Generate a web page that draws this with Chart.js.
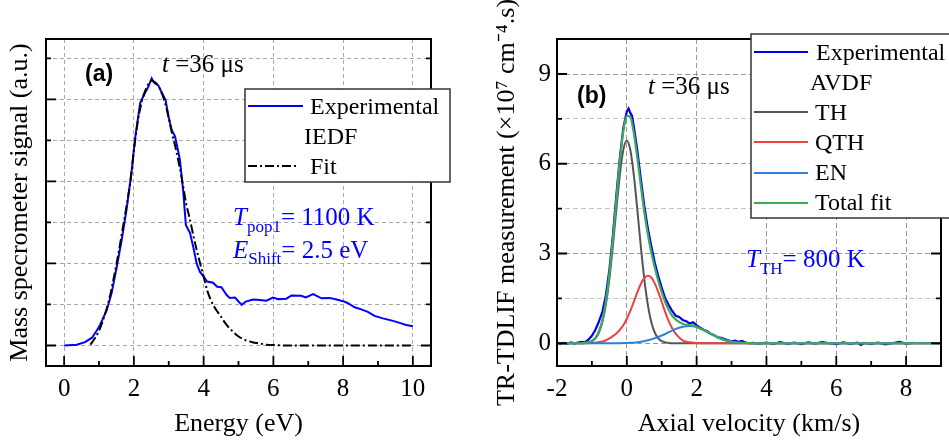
<!DOCTYPE html>
<html>
<head>
<meta charset="utf-8">
<script src="https://cdn.jsdelivr.net/npm/chart.js@4.4.1/dist/chart.umd.min.js"></script>
<style>
  html, body { margin: 0; padding: 0; background: #fff; }
  #wrap { position: relative; width: 949px; height: 443px; overflow: hidden; }
  canvas { position: absolute; top: 0; }
  #chartA { left: 0; }
  #chartB { left: 475px; }
</style>
</head>
<body>
<div id="wrap">
  <canvas id="chartA" width="475" height="443"></canvas>
  <canvas id="chartB" width="474" height="443"></canvas>
</div>
<script>
const SERIF = '"Liberation Serif", "Times New Roman", serif';
const SANS = '"Liberation Sans", Arial, sans-serif';

// panel (a) - ion energy distribution
const energyExp = [0, 0.36, 0.6, 0.8, 0.94, 1.03, 1.22, 1.36, 1.51, 1.65, 1.79, 1.94, 2.03, 2.18, 2.32, 2.41, 2.51, 2.58, 2.7, 2.8,
  2.91, 2.99, 3.08, 3.18, 3.32, 3.42, 3.49, 3.61, 3.7, 3.8, 3.89, 3.99, 4.1, 4.27, 4.39, 4.51, 4.66, 4.75, 4.9, 5.09,
  5.21, 5.42, 5.61, 5.8, 5.99, 6.14, 6.37, 6.52, 6.8, 6.93, 7.14, 7.38, 7.61, 7.81, 8.0, 8.14, 8.33, 8.52, 8.71, 8.9,
  9.14, 9.43, 9.62, 9.81, 10.0];
const iedfExp = [0, 0.02, 0.08, 0.19, 0.37, 0.5, 0.86, 1.27, 1.92, 2.57, 3.31, 4.28, 5.02, 5.91, 6.16, 6.3, 6.51, 6.4, 6.34, 6.16,
  5.98, 5.59, 5.26, 5.1, 4.53, 3.71, 2.94, 2.74, 2.41, 2.0, 1.8, 1.69, 1.56, 1.53, 1.43, 1.42, 1.23, 1.16, 1.17, 0.99,
  1.07, 1.12, 1.11, 1.09, 1.17, 1.13, 1.14, 1.22, 1.21, 1.17, 1.25, 1.15, 1.16, 1.12, 1.08, 1.03, 0.93, 0.88, 0.82, 0.72,
  0.66, 0.6, 0.55, 0.5, 0.47];
const energyFit = [0.75, 0.9, 1.0, 1.1, 1.2, 1.3, 1.4, 1.5, 1.6, 1.7, 1.8, 1.9, 2.0, 2.1, 2.2, 2.3, 2.4, 2.5, 2.6, 2.7,
  2.8, 2.9, 3.0, 3.1, 3.2, 3.3, 3.4, 3.5, 3.6, 3.7, 3.8, 3.9, 4.0, 4.1, 4.2, 4.3, 4.4, 4.5, 4.6, 4.7,
  4.8, 4.9, 5.0, 5.2, 5.4, 5.6, 5.8, 6.0, 6.5, 8.0, 10.0];
const iedfFit = [0.02, 0.2, 0.36, 0.58, 0.84, 1.15, 1.55, 1.98, 2.45, 2.95, 3.45, 4.0, 4.75, 5.4, 5.85, 6.15, 6.35, 6.45, 6.42, 6.33,
  6.15, 5.9, 5.55, 5.15, 4.8, 4.4, 3.95, 3.45, 3.1, 2.7, 2.33, 2.0, 1.68, 1.35, 1.12, 0.95, 0.82, 0.7, 0.57, 0.46,
  0.37, 0.29, 0.22, 0.13, 0.08, 0.05, 0.02, 0.01, 0, 0, 0];
const energyTicks = [0, 1, 2, 3, 4, 5, 6, 7, 8, 9, 10];
const signalTicks = [0, 1, 2, 3, 4, 5, 6, 7];

// panel (b) - axial velocity distribution
const avdfVel = [-2.0, -1.9, -1.8, -1.7, -1.6, -1.5, -1.4, -1.3, -1.2, -1.1, -1.0, -0.9, -0.8, -0.7, -0.6, -0.5, -0.4, -0.3, -0.2, -0.1,
  0.0, 0.05, 0.1, 0.15, 0.2, 0.3, 0.4, 0.5, 0.6, 0.7, 0.8, 0.9, 1.0, 1.1, 1.2, 1.3, 1.4, 1.5, 1.6, 1.7,
  1.8, 1.9, 2.0, 2.1, 2.2, 2.3, 2.4, 2.5, 2.6, 2.7, 2.8, 2.9, 3.0, 3.1, 3.2, 3.3, 3.4, 3.5, 3.6, 3.8,
  4.0, 4.2, 4.4, 4.6, 4.8, 5.0, 5.2, 5.4, 5.6, 5.8, 6.0, 6.2, 6.4, 6.6, 6.7, 6.8, 7.0, 7.2, 7.4, 7.6,
  7.8, 8.0, 8.2];
const avdfExp = [0.02, -0.03, 0.01, -0.02, 0.03, -0.01, 0.02, 0.05, 0.03, 0.12, 0.25, 0.45, 0.72, 1.05, 1.6, 2.45, 3.6, 4.95, 6.2, 7.2,
  7.75, 7.85, 7.7, 7.6, 7.25, 6.45, 5.5, 4.6, 3.85, 3.25, 2.7, 2.25, 1.85, 1.5, 1.28, 1.08, 0.92, 0.88, 0.78, 0.74,
  0.66, 0.7, 0.6, 0.52, 0.45, 0.4, 0.32, 0.27, 0.2, 0.18, 0.14, 0.1, 0.06, 0.09, 0.05, 0.08, 0.02, 0.0, 0.01, -0.01,
  0.02, -0.02, 0.04, -0.02, 0.02, -0.03, 0.03, -0.01, 0.04, 0.0, -0.03, 0.03, -0.02, 0.02, -0.06, 0.01, -0.02, 0.02, -0.04, 0.0,
  0.05, -0.01, 0.01];
const fitVel = [-2, -1.6, -1.3, -1.2, -1.1, -1.0, -0.9, -0.8, -0.7, -0.6, -0.5, -0.4, -0.3, -0.2, -0.1, 0, 0.1, 0.2, 0.3, 0.4,
  0.5, 0.6, 0.7, 0.8, 0.9, 1.0, 1.1, 1.2, 1.3, 1.4, 1.5, 1.6, 1.7, 1.8, 1.9, 2.0, 2.1, 2.2, 2.3, 2.4,
  2.5, 2.6, 2.7, 2.8, 2.9, 3.0, 3.1, 3.2, 3.3, 3.4, 3.5, 3.6, 3.8, 4.0, 5, 7, 9];
const thFit = [0, 0, 0, 0.01, 0.03, 0.07, 0.16, 0.36, 0.71, 1.30, 2.15, 3.25, 4.48, 5.63, 6.47, 6.77, 6.47, 5.63, 4.48, 3.25,
  2.15, 1.30, 0.71, 0.36, 0.16, 0.07, 0.03, 0.01, 0, 0, 0, 0, 0, 0, 0, 0, 0, 0, 0, 0,
  0, 0, 0, 0, 0, 0, 0, 0, 0, 0, 0, 0, 0, 0, 0, 0, 0];
const qthFit = [0, 0, 0, 0, 0, 0.01, 0.02, 0.04, 0.06, 0.10, 0.16, 0.24, 0.33, 0.45, 0.60, 0.82, 1.08, 1.38, 1.70, 1.98,
  2.18, 2.26, 2.20, 2.00, 1.72, 1.38, 1.04, 0.74, 0.50, 0.32, 0.19, 0.10, 0.05, 0.03, 0.02, 0.01, 0, 0, 0, 0,
  0, 0, 0, 0, 0, 0, 0, 0, 0, 0, 0, 0, 0, 0, 0, 0, 0];
const enFit = [0, 0, 0, 0, 0, 0, 0, 0, 0, 0, 0, 0, 0, 0.004, 0.007, 0.01, 0.015, 0.02, 0.03, 0.05,
  0.07, 0.10, 0.13, 0.17, 0.21, 0.26, 0.31, 0.37, 0.42, 0.48, 0.52, 0.55, 0.57, 0.58, 0.57, 0.54, 0.49, 0.44, 0.38, 0.32,
  0.26, 0.20, 0.15, 0.11, 0.08, 0.05, 0.035, 0.02, 0.014, 0.008, 0.005, 0.003, 0.001, 0, 0, 0, 0];
const totalFit = [0, 0, 0, 0.01, 0.03, 0.08, 0.18, 0.40, 0.77, 1.40, 2.31, 3.49, 4.81, 6.08, 7.08, 7.60, 7.57, 7.03, 6.21, 5.28,
  4.40, 3.66, 3.04, 2.53, 2.09, 1.71, 1.38, 1.12, 0.92, 0.80, 0.71, 0.65, 0.62, 0.61, 0.59, 0.55, 0.49, 0.44, 0.38, 0.32,
  0.26, 0.20, 0.15, 0.11, 0.08, 0.05, 0.035, 0.02, 0.014, 0.008, 0.005, 0.003, 0.001, 0, 0, 0, 0];
const velTicks = [-2, -1, 0, 1, 2, 3, 4, 5, 6, 7, 8, 9];
const tdlifTicks = [0, 1.5, 3, 4.5, 6, 7.5, 9];

function pts(xs, ys) {
  return xs.map((x, i) => ({ x: x, y: ys[i] }));
}

function isMult(v, step) {
  return Math.abs(v / step - Math.round(v / step)) < 1e-6;
}

// text pieces with sub/superscripts, drawn left to right
function drawParts(ctx, x, y, parts, color) {
  ctx.fillStyle = color;
  ctx.textAlign = 'left';
  ctx.textBaseline = 'alphabetic';
  parts.forEach(p => {
    ctx.font = p.font;
    ctx.fillText(p.text, x, y + (p.dy || 0));
    x += ctx.measureText(p.text).width;
  });
}

// box border plus inward ticks on bottom, left and right
const frameTicks = {
  id: 'frameTicks',
  afterDatasetsDraw(chart, args, opts) {
    const { ctx, chartArea: a } = chart;
    const xs = chart.scales.x, ys = chart.scales.y;
    ctx.save();
    ctx.strokeStyle = '#000';
    ctx.lineWidth = 1.8;
    ctx.beginPath();
    xs.ticks.forEach(t => {
      const p = xs.getPixelForValue(t.value);
      const len = isMult(t.value, opts.xMajor) ? 10 : 5;
      ctx.moveTo(p, a.bottom);
      ctx.lineTo(p, a.bottom - len);
    });
    ys.ticks.forEach(t => {
      const p = ys.getPixelForValue(t.value);
      const len = isMult(t.value, opts.yMajor) ? 10 : 5;
      ctx.moveTo(a.left, p);
      ctx.lineTo(a.left + len, p);
      ctx.moveTo(a.right, p);
      ctx.lineTo(a.right - len, p);
    });
    ctx.stroke();
    ctx.lineWidth = 2;
    ctx.strokeRect(a.left, a.top, a.right - a.left, a.bottom - a.top);
    ctx.restore();
  }
};

const legendA = {
  id: 'legendA',
  afterDraw(chart) {
    const ctx = chart.ctx;
    ctx.save();
    ctx.fillStyle = '#fff';
    ctx.fillRect(245, 89, 205, 93);
    ctx.strokeStyle = '#333';
    ctx.lineWidth = 1.5;
    ctx.strokeRect(245, 89, 205, 93);

    ctx.lineWidth = 2;
    ctx.strokeStyle = '#0000ff';
    ctx.beginPath(); ctx.moveTo(248, 106); ctx.lineTo(303, 106); ctx.stroke();
    ctx.strokeStyle = '#000';
    ctx.setLineDash([9, 3, 2, 3]);
    ctx.beginPath(); ctx.moveTo(248, 166); ctx.lineTo(298, 166); ctx.stroke();
    ctx.setLineDash([]);

    const f = '24px ' + SERIF;
    drawParts(ctx, 310, 114, [{ text: 'Experimental', font: f }], '#000');
    drawParts(ctx, 304, 144, [{ text: 'IEDF', font: f }], '#000');
    drawParts(ctx, 310, 174, [{ text: 'Fit', font: f }], '#000');

    // annotations
    drawParts(ctx, 85, 81, [{ text: '(a)', font: 'bold 23px ' + SANS }], '#000');
    drawParts(ctx, 162, 72, [
      { text: 't', font: 'italic 25px ' + SERIF },
      { text: ' =36 \u03bcs', font: '25px ' + SERIF }
    ], '#000');
    drawParts(ctx, 233, 225, [
      { text: 'T', font: 'italic 25px ' + SERIF },
      { text: 'pop1', font: '17px ' + SERIF, dy: 7 },
      { text: '= 1100 K', font: '25px ' + SERIF }
    ], '#0000ff');
    drawParts(ctx, 233, 258, [
      { text: 'E', font: 'italic 25px ' + SERIF },
      { text: 'Shift', font: '17px ' + SERIF, dy: 6 },
      { text: '= 2.5 eV', font: '25px ' + SERIF }
    ], '#0000ff');
    ctx.restore();
  }
};

const legendB = {
  id: 'legendB',
  afterDraw(chart) {
    const ctx = chart.ctx;
    const ox = -475;
    ctx.save();
    ctx.fillStyle = '#fff';
    ctx.fillRect(751 + ox, 34, 210, 184);
    ctx.strokeStyle = '#333';
    ctx.lineWidth = 1.5;
    ctx.strokeRect(751 + ox, 34, 210, 184);

    const rows = [
      { c: '#0000ee', y: 52 },
      { c: '#555555', y: 112 },
      { c: '#f04040', y: 142 },
      { c: '#2a7fe0', y: 173 },
      { c: '#3caa5a', y: 203 }
    ];
    ctx.lineWidth = 2;
    rows.forEach(r => {
      ctx.strokeStyle = r.c;
      ctx.beginPath(); ctx.moveTo(754 + ox, r.y); ctx.lineTo(808 + ox, r.y); ctx.stroke();
    });

    const f = '24px ' + SERIF;
    drawParts(ctx, 816 + ox, 60, [{ text: 'Experimental', font: f }], '#000');
    drawParts(ctx, 810 + ox, 90, [{ text: 'AVDF', font: f }], '#000');
    drawParts(ctx, 815 + ox, 120, [{ text: 'TH', font: f }], '#000');
    drawParts(ctx, 815 + ox, 150, [{ text: 'QTH', font: f }], '#000');
    drawParts(ctx, 815 + ox, 180, [{ text: 'EN', font: f }], '#000');
    drawParts(ctx, 815 + ox, 210, [{ text: 'Total fit', font: f }], '#000');

    // annotations
    drawParts(ctx, 577 + ox, 103, [{ text: '(b)', font: 'bold 23px ' + SANS }], '#000');
    drawParts(ctx, 648 + ox, 94, [
      { text: 't', font: 'italic 25px ' + SERIF },
      { text: ' =36 \u03bcs', font: '25px ' + SERIF }
    ], '#000');
    drawParts(ctx, 746 + ox, 267, [
      { text: 'T', font: 'italic 25px ' + SERIF },
      { text: 'TH', font: '17px ' + SERIF, dy: 7 },
      { text: '= 800 K', font: '25px ' + SERIF }
    ], '#0000ff');
    ctx.restore();
  }
};

const tickFont = { family: SERIF, size: 25 };
const titleFont = { family: SERIF, size: 26 };

new Chart(document.getElementById('chartA'), {
  type: 'line',
  data: {
    datasets: [
      { label: 'Experimental IEDF', data: pts(energyExp, iedfExp), borderColor: '#0000ff', borderWidth: 2,
        pointRadius: 0, tension: 0, order: 2 },
      { label: 'Fit', data: pts(energyFit, iedfFit), borderColor: '#000', borderWidth: 2, borderDash: [9, 3, 2, 3],
        pointRadius: 0, cubicInterpolationMode: 'monotone', order: 1 }
    ]
  },
  options: {
    responsive: false,
    animation: false,
    layout: { padding: { top: 39, right: 44, left: 0, bottom: 0 } },
    plugins: {
      legend: { display: false },
      tooltip: { enabled: false },
      frameTicks: { xMajor: 2, yMajor: 2 }
    },
    scales: {
      x: {
        type: 'linear', min: -0.52, max: 10.52,
        afterBuildTicks: s => { s.ticks = energyTicks.map(v => ({ value: v })); },
        afterFit: s => { s.height = 77; },
        ticks: { callback: v => isMult(v, 2) ? String(v) : '', font: tickFont, color: '#000', padding: 8,
          maxRotation: 0, autoSkip: false },
        grid: { drawTicks: false, lineWidth: 1,
          color: c => isMult(c.tick.value, 2) ? '#aaaaaa' : 'rgba(0,0,0,0)' },
        border: { display: false, dash: [4, 3] },
        title: { display: true, text: 'Energy (eV)', font: titleFont, color: '#000', padding: { top: 0, bottom: 3 } }
      },
      y: {
        type: 'linear', min: -0.5, max: 7.47,
        afterBuildTicks: s => { s.ticks = signalTicks.map(v => ({ value: v })); },
        afterFit: s => { s.width = 46; },
        ticks: { display: false },
        grid: { drawTicks: false, lineWidth: 1, color: '#aaaaaa' },
        border: { display: false, dash: [4, 3] },
        title: { display: true, text: 'Mass specrometer signal (a.u.)', font: titleFont, color: '#000',
          padding: { top: 5, bottom: 0 } }
      }
    }
  },
  plugins: [frameTicks, legendA]
});

new Chart(document.getElementById('chartB'), {
  type: 'line',
  data: {
    datasets: [
      { label: 'Experimental AVDF', data: pts(avdfVel, avdfExp), borderColor: '#0000ee', borderWidth: 2.2,
        pointRadius: 0, tension: 0, order: 5 },
      { label: 'TH', data: pts(fitVel, thFit), borderColor: '#555555', borderWidth: 2,
        pointRadius: 0, cubicInterpolationMode: 'monotone', order: 4 },
      { label: 'QTH', data: pts(fitVel, qthFit), borderColor: '#f04040', borderWidth: 2,
        pointRadius: 0, cubicInterpolationMode: 'monotone', order: 3 },
      { label: 'EN', data: pts(fitVel, enFit), borderColor: '#2a7fe0', borderWidth: 2,
        pointRadius: 0, cubicInterpolationMode: 'monotone', order: 2 },
      { label: 'Total fit', data: pts(fitVel, totalFit), borderColor: '#3caa5a', borderWidth: 2.2,
        pointRadius: 0, cubicInterpolationMode: 'monotone', order: 1 }
    ]
  },
  options: {
    responsive: false,
    animation: false,
    layout: { padding: { top: 39, right: 8, left: 0, bottom: 0 } },
    plugins: {
      legend: { display: false },
      tooltip: { enabled: false },
      frameTicks: { xMajor: 2, yMajor: 3 }
    },
    scales: {
      x: {
        type: 'linear', min: -2, max: 9,
        afterBuildTicks: s => { s.ticks = velTicks.map(v => ({ value: v })); },
        afterFit: s => { s.height = 77; },
        ticks: { callback: v => isMult(v, 2) ? String(v) : '', font: tickFont, color: '#000', padding: 8,
          maxRotation: 0, autoSkip: false },
        grid: { drawTicks: false, lineWidth: 1,
          color: c => isMult(c.tick.value, 2) ? '#999999' : 'rgba(0,0,0,0)' },
        border: { display: false, dash: [5, 3] },
        title: { display: true, text: 'Axial velocity (km/s)', font: titleFont, color: '#000',
          padding: { top: 0, bottom: 3 } }
      },
      y: {
        type: 'linear', min: -0.76, max: 10.17,
        afterBuildTicks: s => { s.ticks = tdlifTicks.map(v => ({ value: v })); },
        afterFit: s => { s.width = 82; },
        ticks: { callback: v => isMult(v, 3) ? String(v) : '', font: tickFont, color: '#000', padding: 6 },
        grid: { drawTicks: false, lineWidth: 1,
          color: c => isMult(c.tick.value, 3) ? '#999999' : '#c4c4c4' },
        border: { display: false, dash: [5, 3] },
        title: { display: true, text: 'TR-TDLIF measurement (\u00d710\u2077 cm\u207b\u2074.s)', font: titleFont,
          color: '#000', padding: { top: 17, bottom: 0 } }
      }
    }
  },
  plugins: [frameTicks, legendB]
});
</script>
</body>
</html>
